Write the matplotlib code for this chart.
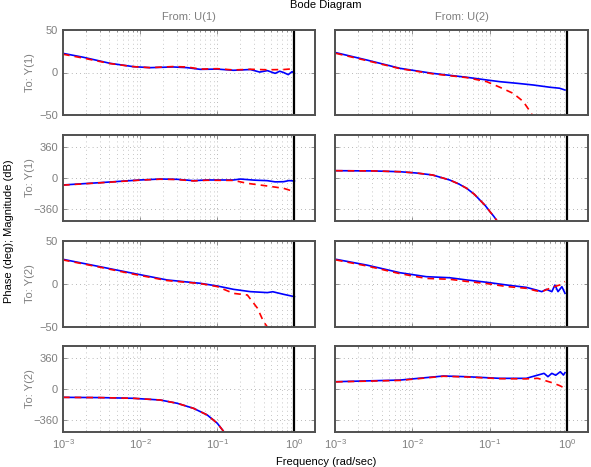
import numpy as np
import matplotlib
matplotlib.use("Agg")
import matplotlib.pyplot as plt
from matplotlib.ticker import FixedLocator, LogLocator, NullFormatter

plt.rcParams['font.family'] = ['Liberation Sans', 'DejaVu Sans']
plt.rcParams['mathtext.fontset'] = 'custom'
plt.rcParams['mathtext.rm'] = 'Liberation Sans'

GRAY = '#7f7f7f'

# ---------------- data (log10 frequency, value) ----------------
# Row 1: magnitude Y(1) (dB)
m11_lf_b = [-3.0, -2.74, -2.39, -2.09, -1.87, -1.57, -1.39, -1.22, -1.0, -0.79, -0.57, -0.45, -0.35, -0.25, -0.19, -0.14, -0.08, -0.03, 0.0]
m11_b    = [22.5, 18.0, 10.8, 6.9, 5.7, 6.5, 5.7, 3.7, 4.0, 2.6, 3.5, 0.5, 2.2, -1.0, 1.5, 0.0, -2.5, 1.0, -1.0]
m11_lf_r = [-3.0, -2.74, -2.39, -2.09, -1.87, -1.57, -1.39, -1.22, -1.0, -0.79, -0.57, -0.35, -0.14, 0.0]
m11_r    = [21.5, 17.0, 10.5, 6.9, 5.7, 7.0, 6.5, 4.0, 4.5, 3.0, 3.8, 3.2, 3.5, 4.5]

m12_lf_b = [-2.987, -2.59, -2.16, -1.74, -1.30, -1.04, -0.87, -0.65, -0.44, -0.22, -0.10, -0.03]
m12_b    = [23.3, 14.7, 4.9, -1.0, -5.6, -8.8, -10.8, -12.7, -14.7, -17.4, -18.5, -20.6]
m12_lf_r = [-2.987, -2.59, -2.16, -1.74, -1.30, -1.04, -0.87, -0.70, -0.57, -0.48, -0.42, -0.30]
m12_r    = [22.5, 14.0, 4.5, -1.5, -6.0, -10.8, -17.4, -24.5, -34.0, -46.0, -55.0, -80.0]

# Row 2: phase Y(1) (deg)
p11_lf_b = [-3.0, -2.52, -2.0, -1.74, -1.52, -1.31, -1.13, -0.79, -0.70, -0.52, -0.35, -0.25, -0.14, -0.07, 0.0]
p11_b    = [-81, -54, -23, -12, -15, -31, -23, -23, -12, -25, -31, -45, -43, -30, -35]
p11_lf_r = [-3.0, -2.52, -2.0, -1.74, -1.52, -1.31, -1.13, -0.79, -0.61, -0.35, -0.14, 0.0]
p11_r    = [-83, -56, -25, -14, -18, -34, -26, -28, -62, -93, -120, -159]

p12_lf   = [-2.987, -2.5, -2.16, -1.95, -1.74, -1.52, -1.40, -1.30, -1.20, -1.13, -1.06, -1.0, -0.95, -0.91, -0.85]
p12_b    = [85, 82, 73, 58, 35, -23, -70, -120, -190, -255, -320, -390, -445, -495, -560]
p12_r    = [85, 82, 73, 58, 35, -23, -70, -120, -190, -255, -320, -390, -445, -495, -560]

# Row 3: magnitude Y(2) (dB)
m21_lf_b = [-3.0, -2.52, -2.09, -1.65, -1.22, -1.0, -0.79, -0.57, -0.35, -0.28, -0.14, 0.0]
m21_b    = [28.7, 20.1, 12.4, 4.7, 0.8, -2.3, -6.2, -8.9, -10.0, -9.0, -12.0, -14.7]
m21_lf_r = [-3.0, -2.52, -2.09, -1.65, -1.22, -1.0, -0.79, -0.61, -0.48, -0.40, -0.35, -0.25]
m21_r    = [28.0, 19.5, 11.5, 4.0, 0.5, -3.0, -10.9, -12.8, -28.0, -43.8, -50.0, -70.0]

m22_lf_b = [-2.987, -2.59, -2.16, -1.82, -1.52, -1.30, -1.04, -0.78, -0.53, -0.40, -0.33, -0.27, -0.20, -0.16, -0.12, -0.07, -0.03]
m22_b    = [28.7, 22.0, 13.1, 8.5, 7.3, 4.7, 2.0, -1.2, -3.9, -7.0, -8.9, -6.2, -8.9, -1.2, -8.9, -3.1, -10.8]
m22_lf_r = [-2.987, -2.59, -2.16, -1.82, -1.52, -1.30, -1.04, -0.78, -0.53, -0.40, -0.33, -0.20, -0.10, -0.03]
m22_r    = [28.0, 21.0, 12.0, 6.5, 5.5, 3.0, 0.5, -3.0, -5.0, -8.0, -8.9, -4.0, -1.2, 2.7]

# Row 4: phase Y(2) (deg)
p21_lf   = [-3.0, -2.52, -2.09, -1.74, -1.52, -1.31, -1.13, -1.0, -0.91, -0.85]
p21_b    = [-97, -100, -108, -128, -166, -224, -302, -398, -502, -570]
p21_r    = [-97, -100, -108, -128, -166, -224, -302, -398, -502, -570]

p22_lf_b = [-2.987, -2.16, -1.60, -1.30, -0.87, -0.53, -0.38, -0.30, -0.25, -0.20, -0.15, -0.09, -0.05, -0.03]
p22_b    = [85, 104, 151, 143, 124, 124, 162, 182, 143, 182, 160, 201, 162, 190]
p22_lf_r = [-2.987, -2.16, -1.60, -1.30, -0.87, -0.53, -0.38, -0.20, -0.10, -0.03]
p22_r    = [83, 100, 148, 140, 120, 118, 124, 74, 40, 8]

row_labels = ['To: Y(1)', 'To: Y(1)', 'To: Y(2)', 'To: Y(2)']
col_labels = ['From: U(1)', 'From: U(2)']
mag_ticks = [-50, 0, 50]
phase_ticks = [-360, 0, 360]
xtick_labels = [r'$10^{-3}$', r'$10^{-2}$', r'$10^{-1}$', r'$10^{0}$']

panels = [
    [(m11_lf_b, m11_b, m11_lf_r, m11_r), (m12_lf_b, m12_b, m12_lf_r, m12_r)],
    [(p11_lf_b, p11_b, p11_lf_r, p11_r), (p12_lf, p12_b, p12_lf, p12_r)],
    [(m21_lf_b, m21_b, m21_lf_r, m21_r), (m22_lf_b, m22_b, m22_lf_r, m22_r)],
    [(p21_lf, p21_b, p21_lf, p21_r), (p22_lf_b, p22_b, p22_lf_r, p22_r)],
]

W, H = 591, 467
fig = plt.figure(figsize=(W / 100, H / 100), dpi=100)

col_px = [(63, 315), (335, 588)]
row_px = [(30, 115), (135, 221), (241, 327), (346, 432)]

for r in range(4):
    for c in range(2):
        x0, x1 = col_px[c]
        y0, y1 = row_px[r]
        ax = fig.add_axes([x0 / W, 1 - y1 / H, (x1 - x0) / W, (y1 - y0) / H])
        lfb, vb, lfr, vr = panels[r][c]
        ax.plot(10 ** np.array(lfb), vb, color='#0000ff', lw=1.2, solid_joinstyle='round')
        ax.plot(10 ** np.array(lfr), vr, color='#ff0000', lw=1.2, ls=(0, (4, 3)))
        ax.axvline(1.0, color='black', lw=1.6)
        ax.set_xscale('log')
        ax.set_xlim(1e-3, 1.85)
        if r in (0, 2):
            ax.set_ylim(-50, 50)
            ax.yaxis.set_major_locator(FixedLocator(mag_ticks))
        else:
            ax.set_ylim(-500, 500)
            ax.yaxis.set_major_locator(FixedLocator(phase_ticks))
        ax.xaxis.set_major_locator(FixedLocator([1e-3, 1e-2, 1e-1, 1e0]))
        ax.xaxis.set_minor_locator(LogLocator(base=10, subs=np.arange(2, 10), numticks=20))
        ax.xaxis.set_minor_formatter(NullFormatter())
        if r == 3:
            ax.set_xticklabels(xtick_labels)
        else:
            ax.set_xticklabels([])
        if c == 1:
            ax.set_yticklabels([])
        ax.grid(True, which='major', axis='both', color='#a0a0a0', lw=0.6, ls=(0, (1, 4)))
        ax.grid(True, which='minor', axis='x', color='#b4b4b4', lw=0.6, ls=(0, (1, 4)))
        ax.tick_params(which='both', direction='in', colors=GRAY, labelsize=8,
                       length=3, width=0.6, top=True, right=True)
        ax.tick_params(which='minor', length=1.5)
        for s in ax.spines.values():
            s.set_color('#505050')
            s.set_linewidth(1.4)
        if c == 0:
            fig.text(30 / W, 1 - (y0 + y1) / 2 / H, row_labels[r], rotation=90,
                     ha='center', va='center', color=GRAY, fontsize=8)

for c in range(2):
    x0, x1 = col_px[c]
    fig.text((x0 + x1) / 2 / W, 1 - 17 / H, col_labels[c], ha='center', va='center',
             color=GRAY, fontsize=8)

fig.text(326 / W, 1.0, 'Bode Diagram', ha='center', va='top', color='black', fontsize=8)
fig.text(326 / W, 0.0, 'Frequency (rad/sec)', ha='center', va='bottom', color='black', fontsize=8)
fig.text(9 / W, 1 - 231 / H, 'Phase (deg); Magnitude (dB)', rotation=90, ha='center', va='center',
         color='black', fontsize=8)

fig.savefig('out.png', dpi=100)
